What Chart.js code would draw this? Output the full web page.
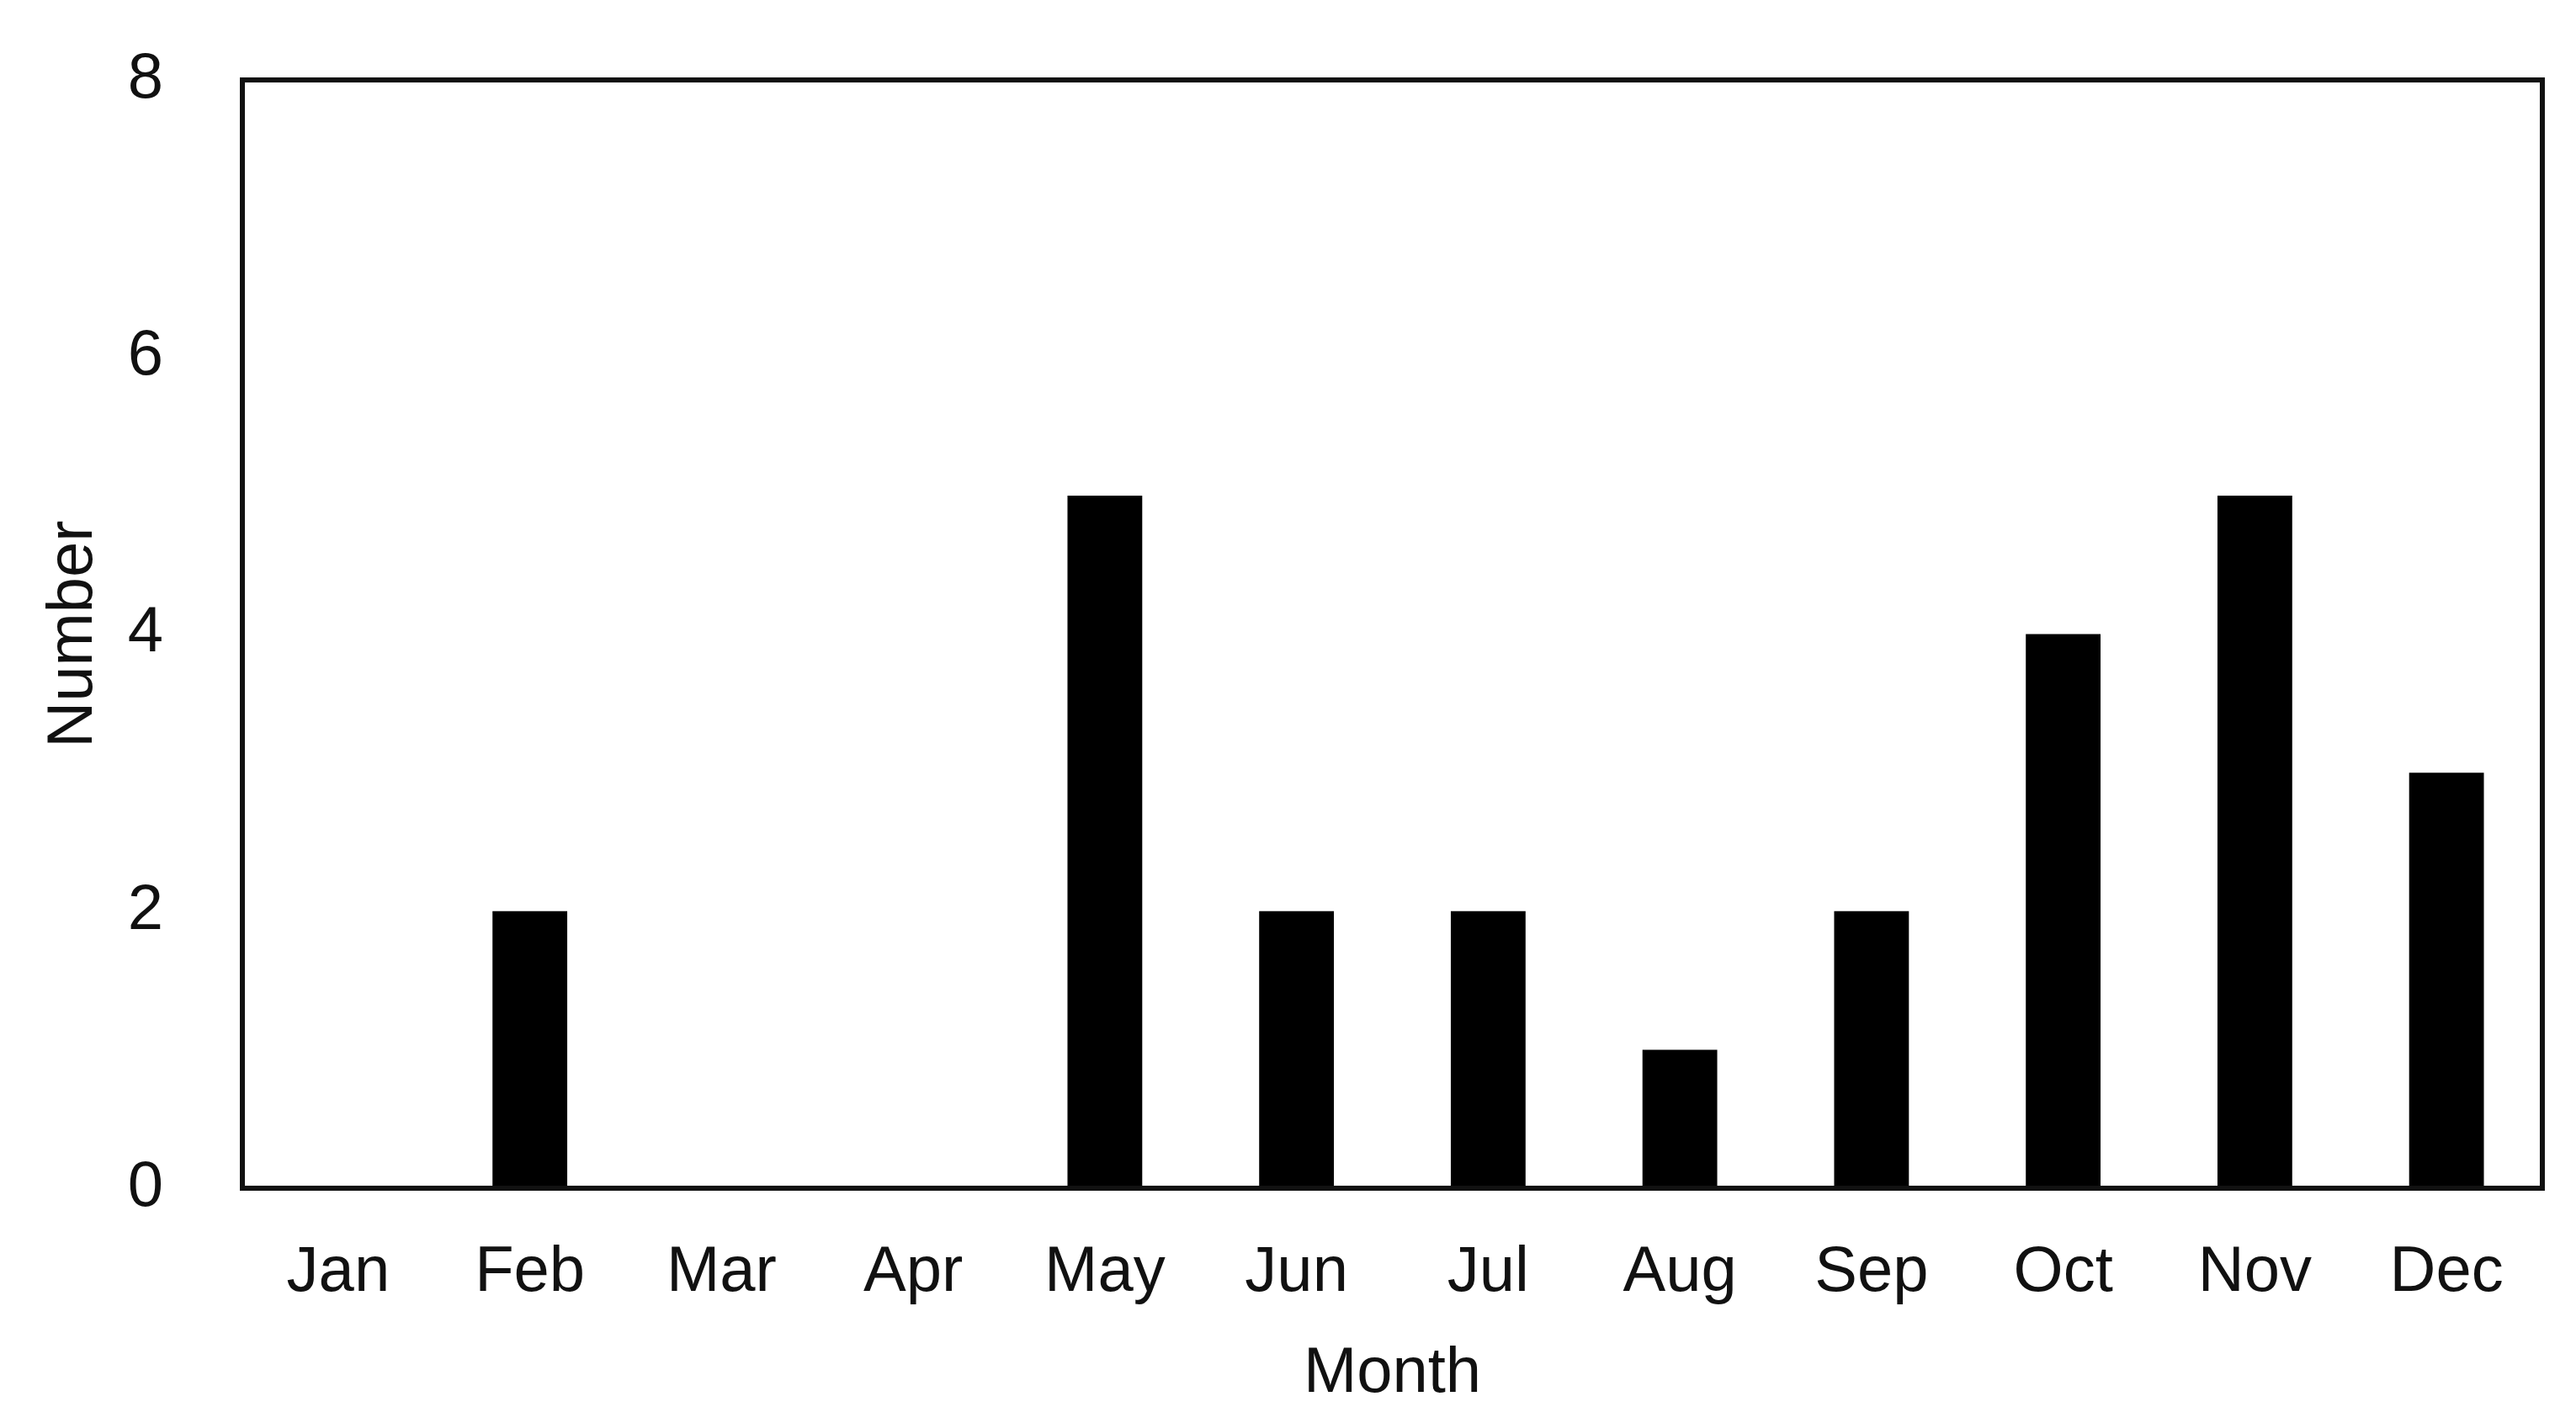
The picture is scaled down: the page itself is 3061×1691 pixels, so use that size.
<!DOCTYPE html>
<html>
<head>
<meta charset="utf-8">
<script src="https://cdn.jsdelivr.net/npm/chart.js@4/dist/chart.umd.min.js"></script>
<style>
  html, body { margin: 0; padding: 0; background: #fff; }
  #wrap { width: 3061px; height: 1691px; }
</style>
</head>
<body>
<div id="wrap"><canvas id="monthChart"></canvas></div>
<script>
// data
const months = ['Jan', 'Feb', 'Mar', 'Apr', 'May', 'Jun', 'Jul', 'Aug', 'Sep', 'Oct', 'Nov', 'Dec'];
const counts = [0, 2, 0, 0, 5, 2, 2, 1, 2, 4, 5, 3];
const yTicks = [0, 2, 4, 6, 8];

const font = { family: '"Liberation Sans", Arial, sans-serif', size: 76 };

// box round the plot area
const frame = {
  id: 'frame',
  afterDatasetsDraw(chart) {
    const a = chart.chartArea;
    const ctx = chart.ctx;
    ctx.save();
    ctx.strokeStyle = '#111';
    ctx.lineWidth = 6;
    ctx.strokeRect(a.left, a.top, a.right - a.left, a.bottom - a.top);
    ctx.restore();
  }
};

new Chart(document.getElementById('monthChart'), {
  type: 'bar',
  data: {
    labels: months,
    datasets: [{
      label: 'Number',
      data: counts,
      backgroundColor: '#000',
      borderWidth: 0,
      barPercentage: 0.39,
      categoryPercentage: 1
    }]
  },
  options: {
    responsive: true,
    maintainAspectRatio: false,
    animation: false,
    layout: { padding: { top: 95, right: 40, left: 0, bottom: 0 } },
    plugins: { legend: { display: false }, tooltip: { enabled: false } },
    scales: {
      x: {
        grid: { display: false, drawTicks: false },
        border: { display: false },
        ticks: { color: '#111', font, padding: 55, maxRotation: 0, autoSkip: false },
        title: { display: true, text: 'Month', color: '#111', font, padding: { top: 0, bottom: 12 } },
        afterFit(scale) {
          scale.height = 279;
          scale.paddingLeft = 0;
          scale.paddingRight = 0;
        }
      },
      y: {
        min: 0,
        max: 8,
        afterBuildTicks(scale) { scale.ticks = yTicks.map(v => ({ value: v })); },
        grid: { display: false, drawTicks: false },
        border: { display: false },
        ticks: { color: '#111', font, padding: 94 },
        title: { display: true, text: 'Number', color: '#111', font, padding: { top: 42, bottom: 0 } },
        afterFit(scale) {
          scale.width = 288;
          scale.paddingTop = 0;
          scale.paddingBottom = 0;
        }
      }
    }
  },
  plugins: [frame]
});
</script>
</body>
</html>
